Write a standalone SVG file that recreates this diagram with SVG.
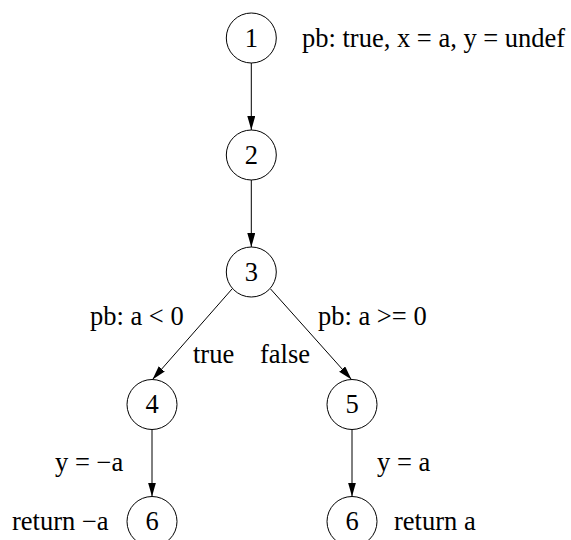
<svg xmlns="http://www.w3.org/2000/svg" width="571" height="540" viewBox="0 0 571 540">
<defs>
<style>
.node circle{fill:#fff;stroke:#000;stroke-width:1}
text{font-family:"Liberation Serif","Times New Roman",serif;font-size:26.5px;fill:#000}
.num{text-anchor:middle}
.edge{stroke:#000;stroke-width:1;fill:none;marker-end:url(#arrow)}
</style>
<marker id="arrow" markerUnits="userSpaceOnUse" markerWidth="14" markerHeight="9" refX="14" refY="4" orient="auto">
<path d="M0,0 L14,4 L0,8 z" fill="#000"/>
</marker>
</defs>
<rect width="571" height="540" fill="#fff"/>
<g id="edges">
<line class="edge" x1="251.3" y1="63" x2="251.3" y2="130"/>
<line class="edge" x1="251.3" y1="180" x2="251.3" y2="247"/>
<line class="edge" x1="232" y1="289" x2="152.5" y2="379.5"/>
<line class="edge" x1="270.6" y1="289" x2="351.5" y2="379.5"/>
<line class="edge" x1="152" y1="429.5" x2="152" y2="496.5"/>
<line class="edge" x1="352" y1="429.5" x2="352" y2="496.5"/>
</g>
<g id="edge-labels">
<text x="90" y="325">pb: a &lt; 0</text>
<text x="318" y="325">pb: a &gt;= 0</text>
<text x="193" y="363">true</text>
<text x="260" y="363">false</text>
<text x="55" y="471">y = −a</text>
<text x="377" y="471">y = a</text>
</g>
<g id="n1" class="node"><circle cx="251.3" cy="38" r="25"/><text class="num" x="251.3" y="46.5">1</text><text x="302" y="47">pb: true, x = a, y = undef</text></g>
<g id="n2" class="node"><circle cx="251.3" cy="155" r="25"/><text class="num" x="251.3" y="163.5">2</text></g>
<g id="n3" class="node"><circle cx="251.3" cy="272" r="25"/><text class="num" x="251.3" y="280.5">3</text></g>
<g id="n4" class="node"><circle cx="152" cy="404.5" r="25"/><text class="num" x="152" y="413">4</text></g>
<g id="n5" class="node"><circle cx="352" cy="404.5" r="25"/><text class="num" x="352" y="413">5</text></g>
<g id="n6a" class="node"><circle cx="152" cy="521.5" r="25"/><text class="num" x="152" y="530">6</text><text x="12" y="530">return −a</text></g>
<g id="n6b" class="node"><circle cx="352" cy="521.5" r="25"/><text class="num" x="352" y="530">6</text><text x="394" y="530">return a</text></g>
</svg>
